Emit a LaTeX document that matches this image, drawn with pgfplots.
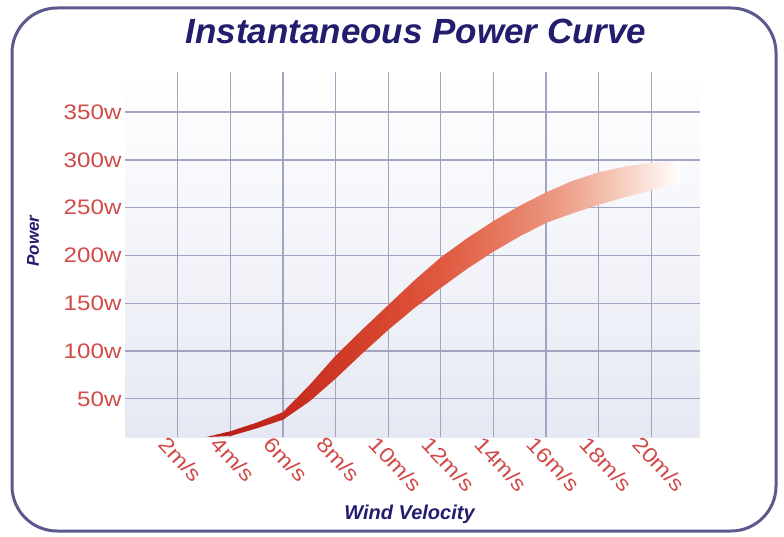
\documentclass[border=0pt]{standalone}
\usepackage{pgfplots}
\pgfplotsset{compat=1.18}
\usepackage{fontspec}
\setmainfont{Liberation Sans}
\newfontfamily\tickfont[FakeStretch=1.15]{Liberation Sans}
\definecolor{navy}{HTML}{231D6E}
\definecolor{tickred}{HTML}{D04A48}
\definecolor{gridc}{HTML}{A3A3C2}
\definecolor{bgblue}{HTML}{E6E9F3}
\definecolor{borderc}{HTML}{5A5A8E}
\definecolor{c1}{HTML}{B51A14}
\definecolor{c2}{HTML}{C42A1E}
\definecolor{c3}{HTML}{D8462F}
\definecolor{c4}{HTML}{DF5A41}
\definecolor{c5}{HTML}{E57359}
\definecolor{c6}{HTML}{EB937C}
\definecolor{c7}{HTML}{F2B7A3}
\definecolor{c8}{HTML}{F9DBD0}
\pgfdeclarehorizontalshading{band}{100bp}{color(0bp)=(c1); color(25bp)=(c1); color(33bp)=(c2); color(44bp)=(c3); color(50bp)=(c4); color(55bp)=(c5); color(61bp)=(c6); color(66bp)=(c7); color(70.5bp)=(c8); color(75bp)=(white); color(100bp)=(white)}
\begin{document}
\begin{tikzpicture}[x=1pt,y=1pt]
\useasboundingbox (0,0) rectangle (784,536);
\draw[borderc, line width=3pt, rounded corners=45pt] (12,5) rectangle (776,528);
\begin{axis}[
  at={(125pt,99pt)}, anchor=south west,
  scale only axis, width=575pt, height=365pt,
  xmin=0, xmax=21.85, ymin=10, ymax=392,
  axis line style={draw=none},
  major tick length=0pt,
  xtick={2,4,6,8,10,12,14,16,18,20},
  xticklabels={2m/s,4m/s,6m/s,8m/s,10m/s,12m/s,14m/s,16m/s,18m/s,20m/s},
  ytick={50,100,150,200,250,300,350},
  yticklabels={50w,100w,150w,200w,250w,300w,350w},
  grid=major,
  grid style={gridc, line width=1.3pt},
  axis background/.style={shade, top color=white, bottom color=bgblue},
  ticklabel style={color=tickred, font=\tickfont\fontsize{21}{24}\selectfont},
  xticklabel style={rotate=-47, anchor=west, inner sep=0pt, xshift=-8pt, yshift=-13pt},
  title={Instantaneous Power Curve},
  title style={font=\fontsize{35}{40}\selectfont\bfseries\itshape, color=navy, at={(0.5,1)}, anchor=center, yshift=35pt, xshift=3.5pt},
  xlabel={Wind Velocity},
  xlabel style={font=\fontsize{20}{24}\selectfont\bfseries\itshape, color=navy, at={(0.5,0)}, anchor=center, yshift=-77pt, xshift=-3pt},
  ylabel={Power},
  ylabel style={font=\fontsize{17}{20}\selectfont\bfseries\itshape, color=navy, at={(-0.16,0.537)}, anchor=center},
]
\addplot[draw=none, shade, shading=band] coordinates {
 (3.1,10) (4,16) (5,25) (6,36) (7,64) (8,95) (9,122) (10,148) (11,174) (12,198)
 (13,218) (14,236) (15,252) (16,266) (17,278) (18,287) (19,293) (20,297) (21.1,299)
 (21.1,275) (20,268) (19,261) (18,253) (17,244) (16,234) (15,220) (14,204) (13,186)
 (12,166) (11,145) (10,122) (9,97) (8,71) (7,47) (6,28) (5,19) (4,11) (3.1,10)
} -- cycle;
\end{axis}
\end{tikzpicture}
\end{document}
